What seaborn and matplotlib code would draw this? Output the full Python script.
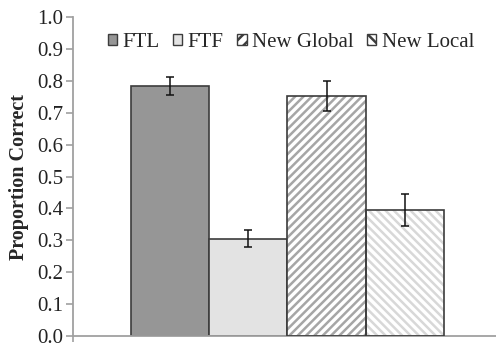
import matplotlib
matplotlib.use("Agg")
import matplotlib.pyplot as plt
import seaborn as sns
import pandas as pd
from matplotlib.patches import Rectangle

conditions = ["FTL", "FTF", "New Global", "New Local"]
proportions = [0.784, 0.305, 0.753, 0.395]
errors = [0.028, 0.027, 0.047, 0.050]

fills = ["#969696", "#e3e3e3", "#ffffff", "#ffffff"]
hatches = [None, None, "////", "\\\\\\\\"]
hatch_colors = [None, None, "#a6a6a6", "#d8d8d8"]
edge = "#3c3c3c"

sns.set_theme(style="white")
plt.rcParams["font.family"] = ["Liberation Serif", "DejaVu Serif"]
plt.rcParams["hatch.linewidth"] = 1.8

df = pd.DataFrame({"group": [""] * len(conditions),
                   "condition": conditions,
                   "proportion": proportions})

fig = plt.figure(figsize=(4.96, 3.47), dpi=100)
ax = fig.add_axes([0.147, 0.0317, 0.865, 0.9193])

sns.barplot(data=df, x="group", y="proportion", hue="condition",
            hue_order=conditions, palette=fills, errorbar=None,
            width=0.73, gap=0, edgecolor=edge, linewidth=1.2, ax=ax)

handles = []
for cont, h, hc, err, val, fc in zip(ax.containers, hatches, hatch_colors,
                                      errors, proportions, fills):
    for bar in cont:
        if h is not None:
            bar.set_hatch(h)
            bar.set_edgecolor(hc)
            bar.set_linewidth(0)
            # outline drawn on top of the hatch-coloured patch
            ax.add_patch(Rectangle(bar.get_xy(), bar.get_width(), bar.get_height(),
                                   fill=False, edgecolor=edge, linewidth=1.2, zorder=3))
        cx = bar.get_x() + bar.get_width() / 2
        ax.errorbar(cx, val, yerr=err, fmt="none", ecolor="#111111",
                    elinewidth=1.1, capsize=3.2, capthick=1.1, zorder=4)
    hp = Rectangle((0, 0), 1, 1, facecolor=fc, edgecolor=edge, linewidth=1.0)
    if h is not None:
        hp.set_hatch(h[:1] * 3)
    handles.append(hp)

if ax.get_legend() is not None:
    ax.get_legend().remove()
ax.legend(handles, conditions, loc="center", bbox_to_anchor=(0.508, 0.92),
          ncol=4, frameon=False, fontsize=15, handlelength=0.45, handleheight=0.45,
          handletextpad=0.25, columnspacing=0.65, borderpad=0)

ax.set_ylim(0, 1.0)
ax.set_xlim(-0.5, 0.5)
ax.set_yticks([i / 10 for i in range(11)])
ax.set_yticklabels([f"{i / 10:.1f}" for i in range(11)], fontsize=15)
ax.set_xticks([-0.5])
ax.set_xticklabels([""])
ax.set_xlabel("")
ax.set_ylabel("Proportion Correct", fontsize=14.5, fontweight="bold", labelpad=6)

for side in ["top", "right"]:
    ax.spines[side].set_visible(False)
for side in ["left", "bottom"]:
    ax.spines[side].set_color("#a0a0a0")
    ax.spines[side].set_linewidth(1.3)
ax.tick_params(axis="y", direction="out", length=5, width=1.2, color="#a0a0a0",
               labelcolor="#222222", pad=2, left=True)
ax.tick_params(axis="x", direction="out", length=4, width=1.2, color="#a0a0a0", bottom=True)

fig.savefig("out.png", dpi=100)
